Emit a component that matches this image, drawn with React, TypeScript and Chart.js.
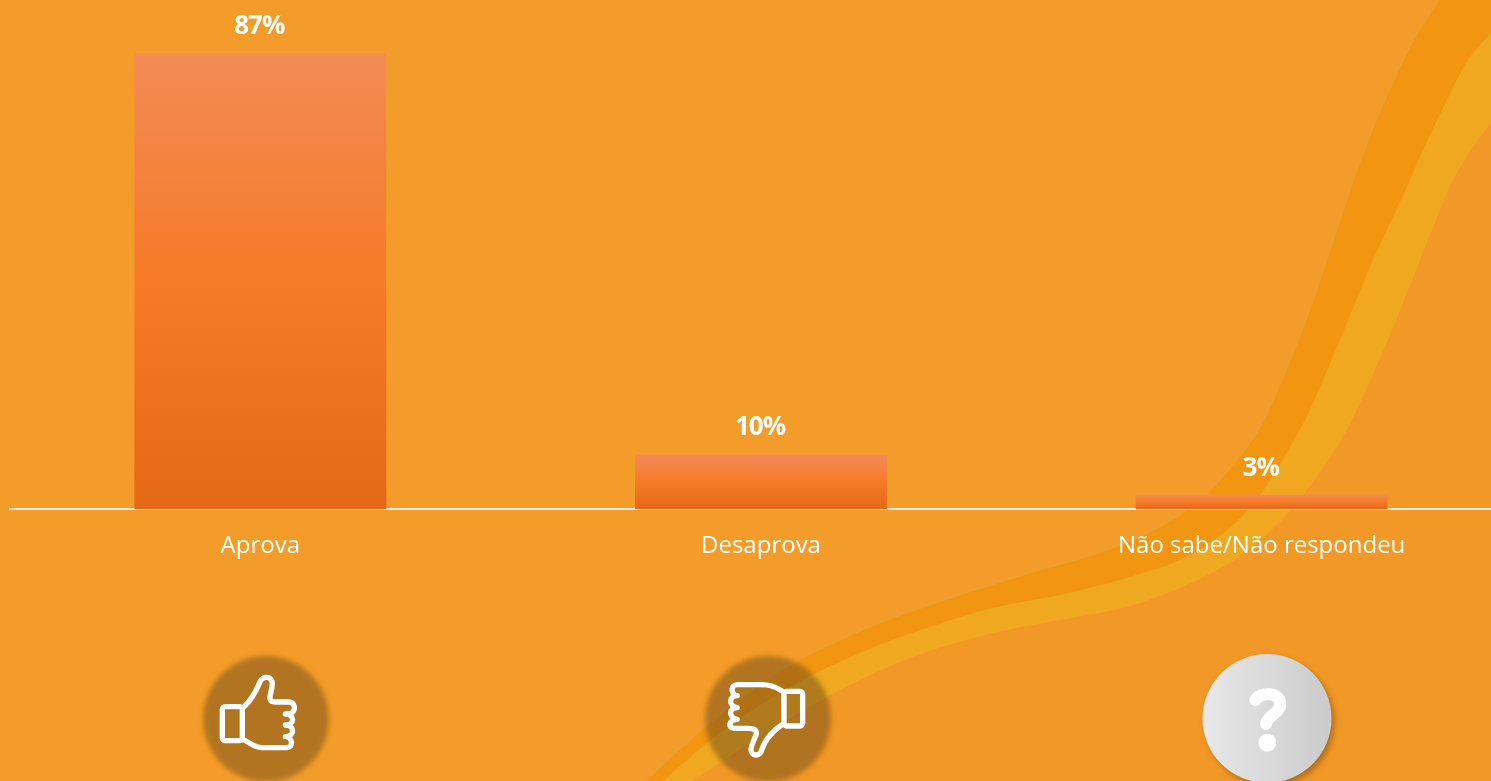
import React, { useEffect, useRef } from "react";
import { Chart, registerables } from "chart.js";

Chart.register(...registerables);

const categories = ["Aprova", "Desaprova", "Não sabe/Não respondeu"];
const approvalValues = [87, 10.4, 2.7];
const valueLabels = ["87%", "10%", "3%"];

type Pt = [number, number];
const ribbonTop: Pt[] = [[1440, 0], [1413, 43], [1383, 107], [1357, 173], [1328, 260], [1307, 320], [1273, 403], [1253, 440], [1207, 495], [1167, 524], [1113, 549], [1020, 577], [927, 607], [860, 632], [780, 672], [703, 730], [647, 781]];
const ribbonMid: Pt[] = [[1491, 33], [1468, 60], [1447, 100], [1423, 150], [1407, 187], [1373, 260], [1340, 340], [1310, 410], [1293, 442], [1260, 495], [1225, 532], [1180, 560], [1127, 578], [1060, 595], [993, 608], [927, 628], [860, 653], [790, 687], [720, 733], [663, 781]];
const ribbonLow: Pt[] = [[1491, 123], [1473, 147], [1453, 180], [1440, 210], [1418, 265], [1392, 330], [1365, 392], [1340, 442], [1303, 495], [1277, 525], [1240, 556], [1213, 572], [1180, 588], [1127, 607], [1060, 620], [993, 633], [927, 652], [860, 680], [790, 718], [692, 781]];

function tangent(pts: Pt[], i: number): Pt {
  const a = pts[Math.max(i - 1, 0)];
  const b = pts[Math.min(i + 1, pts.length - 1)];
  const dx = b[0] - a[0];
  const dy = b[1] - a[1];
  const len = Math.hypot(dx, dy) || 1;
  return [dx / len, dy / len];
}

function smooth(pts: Pt[]): string {
  let d = "";
  for (let i = 0; i < pts.length - 1; i++) {
    const p1 = pts[i];
    const p2 = pts[i + 1];
    const h = Math.hypot(p2[0] - p1[0], p2[1] - p1[1]) / 3;
    const t1 = tangent(pts, i);
    const t2 = tangent(pts, i + 1);
    d += ` C${(p1[0] + t1[0] * h).toFixed(1)} ${(p1[1] + t1[1] * h).toFixed(1)} ${(p2[0] - t2[0] * h).toFixed(1)} ${(p2[1] - t2[1] * h).toFixed(1)} ${p2[0]} ${p2[1]}`;
  }
  return d;
}
const startOf = (pts: Pt[]) => `M${pts[0][0]} ${pts[0][1]}`;
const backOf = (pts: Pt[]) => {
  const r = [...pts].reverse();
  return `L${r[0][0]} ${r[0][1]}` + smooth(r);
};

const darkBand = `${startOf(ribbonTop)}${smooth(ribbonTop)} ${backOf(ribbonMid)} L1491 0 Z`;
const yellowBand = `${startOf(ribbonMid)}${smooth(ribbonMid)} ${backOf(ribbonLow)} Z`;
const lowerArea = `${startOf(ribbonLow)}${smooth(ribbonLow)} L1491 781 Z`;
const topEdge = `${startOf(ribbonTop)}${smooth(ribbonTop)}`;

const thumbUp =
  "M192 200 C215 180 230 150 240 125 C247 106 277 108 277 130 C277 150 268 165 270 176 C272 186 280 186 290 186 L325 186 C342 186 345 200 342 210 C340 220 325 222 316 222 C345 222 345 255 316 255 C345 255 345 290 316 290 C340 292 340 323 320 323 L245 323 C225 323 215 312 192 300";
const thumbDown =
  "M305 152 C280 137 265 134 240 134 L172 134 C150 134 152 165 172 167 C145 167 145 200 172 203 C145 203 145 235 172 238 C145 240 142 265 165 265 L205 265 C225 265 232 272 228 285 C220 305 212 320 213 330 C215 350 240 350 245 330 C255 300 275 275 305 255";

const Decoration = () => (
  <svg width={1491} height={781} style={{ position: "absolute", left: 0, top: 0 }}>
    <defs>
      <filter id="soft" x="-20%" y="-20%" width="140%" height="140%">
        <feGaussianBlur stdDeviation="2.5" />
      </filter>
      <filter id="shade" x="-20%" y="-20%" width="140%" height="140%">
        <feGaussianBlur stdDeviation="3" />
      </filter>
      <linearGradient id="grey" x1="0" x2="1" y1="0" y2="0">
        <stop offset="0" stopColor="#E8E8E8" />
        <stop offset="1" stopColor="#CBCBCB" />
      </linearGradient>
    </defs>
    <rect width={1491} height={781} fill="#F49C29" />
    <path d={lowerArea} fill="#F29826" />
    <path d={darkBand} fill="#F29511" />
    <path d={yellowBand} fill="#F0A821" />
    <path d={topEdge} fill="none" stroke="#C9A032" strokeOpacity={0.4} strokeWidth={1} />

    <circle cx={266} cy={719} r={63} fill="rgb(100,70,15)" fillOpacity={0.46} filter="url(#soft)" />
    <circle cx={768} cy={719} r={63} fill="rgb(100,70,15)" fillOpacity={0.46} filter="url(#soft)" />
    <circle cx={1270} cy={722} r={64} fill="rgb(120,75,15)" fillOpacity={0.6} filter="url(#shade)" />
    <circle cx={1267} cy={718.5} r={64.5} fill="url(#grey)" />

    <g transform="translate(180 640) scale(0.3333)" fill="none" stroke="#fff" strokeWidth={16} strokeLinecap="round" strokeLinejoin="round">
      <rect x={127} y={200} width={60} height={102} rx={8} />
      <path d={thumbUp} />
    </g>
    <g transform="translate(680 640) scale(0.3333)" fill="none" stroke="#fff" strokeWidth={16} strokeLinecap="round" strokeLinejoin="round">
      <rect x={312} y={154} width={56} height={104} rx={8} />
      <path d={thumbDown} />
    </g>
    <g transform="translate(1180 640) scale(0.3333)">
      <path d="M226 180 C240 155 300 155 301 192 C301 220 262 225 258 252" fill="none" stroke="#fff" strokeWidth={36} strokeLinecap="round" />
      <circle cx={262} cy={308} r={27} fill="#fff" />
    </g>
  </svg>
);

const barValueLabels = {
  id: "barValueLabels",
  afterDatasetsDraw(chart: any) {
    const { ctx } = chart;
    const meta = chart.getDatasetMeta(0);
    ctx.save();
    ctx.font = "700 26px 'Open Sans'";
    ctx.fillStyle = "#ffffff";
    ctx.textAlign = "center";
    ctx.textBaseline = "middle";
    (ctx as any).letterSpacing = "-1px";
    meta.data.forEach((bar: any, i: number) => {
      ctx.fillText(valueLabels[i], bar.x - 1, bar.y - 26.5);
    });
    ctx.restore();
  },
};

export default function App() {
  const ref = useRef<HTMLCanvasElement | null>(null);

  useEffect(() => {
    document.body.style.margin = "0";
    document.body.style.overflow = "hidden";
    const chart = new Chart(ref.current!, {
      type: "bar",
      data: {
        labels: categories,
        datasets: [
          {
            data: approvalValues,
            barPercentage: 0.503,
            categoryPercentage: 1,
            borderWidth: 0,
            backgroundColor: (c: any) => {
              const { chart: ch, parsed } = c;
              if (!ch.chartArea || !parsed) return "#F67A27";
              const top = ch.scales.y.getPixelForValue(parsed.y);
              const bottom = ch.scales.y.getPixelForValue(0);
              const g = ch.ctx.createLinearGradient(0, top, 0, bottom);
              g.addColorStop(0, "#F28B55");
              g.addColorStop(0.5, "#F67A27");
              g.addColorStop(1, "#E46815");
              return g;
            },
          },
        ],
      },
      options: {
        animation: false,
        responsive: false,
        layout: { padding: { left: 10, right: 8, top: 0, bottom: 0 } },
        plugins: { legend: { display: false }, tooltip: { enabled: false } },
        scales: {
          x: {
            grid: { display: false, drawTicks: false },
            border: { color: "#EFE9DF", width: 2 },
            ticks: {
              color: "#ffffff",
              font: { family: "'Open Sans'", size: 24 },
              padding: 23,
              maxRotation: 0,
              autoSkip: false,
            },
            afterFit: (s: any) => {
              s.height = 272;
            },
          },
          y: { display: false, min: 0, max: 97.1 },
        },
      },
      plugins: [barValueLabels],
    } as any);
    return () => chart.destroy();
  }, []);

  return (
    <div style={{ position: "relative", width: 1491, height: 781, overflow: "hidden" }}>
      <Decoration />
      <canvas ref={ref} width={1520} height={781} style={{ position: "absolute", left: 0, top: 0, width: 1520, height: 781 }} />
    </div>
  );
}
